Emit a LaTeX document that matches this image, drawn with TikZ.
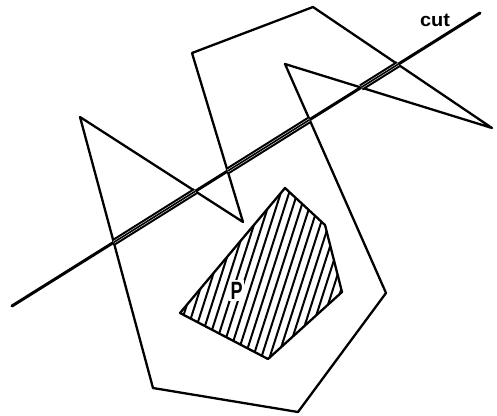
\documentclass[tikz,border=0pt]{standalone}
\usepackage{fontspec}
\setmainfont{Liberation Sans}
\usetikzlibrary{calc}
\tikzset{
  edge/.style={line width=2.3pt, line join=round, line cap=round},
  cutline/.style={line width=3pt, line cap=round},
  tripleout/.style={draw=black, double=white, double distance=2.6pt, line width=2.1pt},
  triplein/.style={line width=1.6pt},
  hatch/.style={line width=2pt},
  lbl/.style={font=\fontsize{19}{19}\selectfont\bfseries, inner sep=0pt}
}
\begin{document}
\begin{tikzpicture}[x=1pt,y=-1pt]
\useasboundingbox (0,0) rectangle (497,415);
% outer polygon
\coordinate (A) at (192,53);
\coordinate (B) at (313,7);
\coordinate (C) at (492,128);
\coordinate (D) at (285,64);
\coordinate (E) at (386,293);
\coordinate (F) at (298,412);
\coordinate (G) at (153,388);
\coordinate (H) at (80,117);
\coordinate (I) at (243,222);
\draw[edge] (A) -- (B) -- (C) -- (D) -- (E) -- (F) -- (G) -- (H) -- (I) -- cycle;
% hatched polygon P
\coordinate (P1) at (180,313);
\coordinate (P2) at (285,188);
\coordinate (P3) at (325,225);
\coordinate (P4) at (342,292);
\coordinate (P5) at (268,359);
\begin{scope}
  \clip (P1) -- (P2) -- (P3) -- (P4) -- (P5) -- cycle;
  \foreach \k in {0,...,36} {
    \draw[hatch] (90+8.3*\k,400) -- (170+8.3*\k,150);
  }
\end{scope}
\draw[edge] (P1) -- (P2) -- (P3) -- (P4) -- (P5) -- cycle;
\node[lbl, font=\fontsize{25}{25}\selectfont\bfseries, xscale=0.72, fill=white, inner sep=1.5pt, anchor=base] (p) at (236.5,299) {P};
% cut line
\coordinate (c0) at (12,306);
\coordinate (c1) at (480,13);
\draw[cutline] (c0) -- (c1);
\coordinate (x1) at ($(c0)!0.2174!(c1)$);
\coordinate (x2) at ($(c0)!0.3916!(c1)$);
\coordinate (x3) at ($(c0)!0.4607!(c1)$);
\coordinate (x4) at ($(c0)!0.6358!(c1)$);
\coordinate (x5) at ($(c0)!0.7460!(c1)$);
\coordinate (x6) at ($(c0)!0.8250!(c1)$);
\foreach \a/\b in {x1/x2, x3/x4, x5/x6} {
  \draw[tripleout] (\a) -- (\b);
  \draw[triplein] (\a) -- (\b);
}
\node[lbl, xscale=1.05, anchor=base] (cut) at (435,26.5) {cut};
\end{tikzpicture}
\end{document}
